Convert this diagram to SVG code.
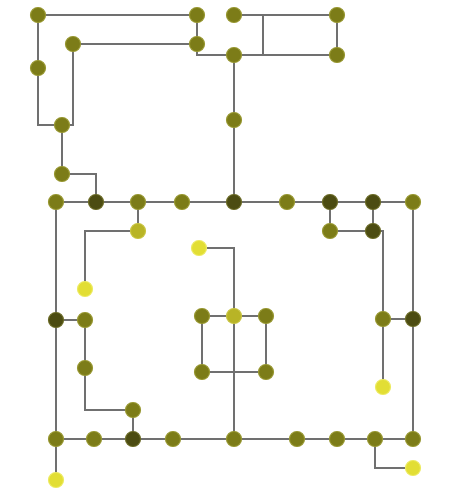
<svg xmlns="http://www.w3.org/2000/svg" width="451" height="493" viewBox="0 0 451 493">
<style>
.e{fill:none;stroke:#707070;stroke-width:2}
circle{r:7.5px;stroke-width:1.2}
.o{fill:#7c7c18;stroke:#979730}
.d{fill:#4c4c12;stroke:#6a6a25}
.l{fill:#b8b426;stroke:#c8c440}
.y{fill:#e2de34;stroke:#ecea60}
</style>
<rect width="451" height="493" fill="#fff"/>
<g id="edges" class="e">
<path d="M38,15H197V44H73V125H38V15"/>
<path d="M197,44V55H337V15H234"/>
<path d="M263,15V55"/>
<path d="M234,55V202"/>
<path d="M62,125V174H96V202"/>
<path d="M56,202H413V439H56V202"/>
<path d="M138,202V231H85V289"/>
<path d="M330,202V231H373V202"/>
<path d="M373,231H383V387"/>
<path d="M383,319H413"/>
<path d="M56,320H85V410H133V439"/>
<path d="M199,248H234V439"/>
<path d="M202,316H266V372H202Z"/>
<path d="M56,439V480"/>
<path d="M375,439V468H413"/>
</g>
<g id="n1"><circle class="o" cx="38" cy="15"/></g>
<g id="n2"><circle class="o" cx="197" cy="15"/></g>
<g id="n3"><circle class="o" cx="73" cy="44"/></g>
<g id="n4"><circle class="o" cx="197" cy="44"/></g>
<g id="n5"><circle class="o" cx="38" cy="68"/></g>
<g id="n6"><circle class="o" cx="62" cy="125"/></g>
<g id="n7"><circle class="o" cx="62" cy="174"/></g>
<g id="n8"><circle class="o" cx="234" cy="15"/></g>
<g id="n9"><circle class="o" cx="337" cy="15"/></g>
<g id="n10"><circle class="o" cx="234" cy="55"/></g>
<g id="n11"><circle class="o" cx="337" cy="55"/></g>
<g id="n12"><circle class="o" cx="234" cy="120"/></g>
<g id="n13"><circle class="o" cx="56" cy="202"/></g>
<g id="n14"><circle class="d" cx="96" cy="202"/></g>
<g id="n15"><circle class="o" cx="138" cy="202"/></g>
<g id="n16"><circle class="o" cx="182" cy="202"/></g>
<g id="n17"><circle class="d" cx="234" cy="202"/></g>
<g id="n18"><circle class="o" cx="287" cy="202"/></g>
<g id="n19"><circle class="d" cx="330" cy="202"/></g>
<g id="n20"><circle class="d" cx="373" cy="202"/></g>
<g id="n21"><circle class="o" cx="413" cy="202"/></g>
<g id="n22"><circle class="l" cx="138" cy="231"/></g>
<g id="n23"><circle class="o" cx="330" cy="231"/></g>
<g id="n24"><circle class="d" cx="373" cy="231"/></g>
<g id="n25"><circle class="y" cx="199" cy="248"/></g>
<g id="n26"><circle class="y" cx="85" cy="289"/></g>
<g id="n27"><circle class="d" cx="56" cy="320"/></g>
<g id="n28"><circle class="o" cx="85" cy="320"/></g>
<g id="n29"><circle class="o" cx="202" cy="316"/></g>
<g id="n30"><circle class="l" cx="234" cy="316"/></g>
<g id="n31"><circle class="o" cx="266" cy="316"/></g>
<g id="n32"><circle class="o" cx="383" cy="319"/></g>
<g id="n33"><circle class="d" cx="413" cy="319"/></g>
<g id="n34"><circle class="o" cx="85" cy="368"/></g>
<g id="n35"><circle class="o" cx="202" cy="372"/></g>
<g id="n36"><circle class="o" cx="266" cy="372"/></g>
<g id="n37"><circle class="y" cx="383" cy="387"/></g>
<g id="n38"><circle class="o" cx="133" cy="410"/></g>
<g id="n39"><circle class="o" cx="56" cy="439"/></g>
<g id="n40"><circle class="o" cx="94" cy="439"/></g>
<g id="n41"><circle class="d" cx="133" cy="439"/></g>
<g id="n42"><circle class="o" cx="173" cy="439"/></g>
<g id="n43"><circle class="o" cx="234" cy="439"/></g>
<g id="n44"><circle class="o" cx="297" cy="439"/></g>
<g id="n45"><circle class="o" cx="337" cy="439"/></g>
<g id="n46"><circle class="o" cx="375" cy="439"/></g>
<g id="n47"><circle class="o" cx="413" cy="439"/></g>
<g id="n48"><circle class="y" cx="56" cy="480"/></g>
<g id="n49"><circle class="y" cx="413" cy="468"/></g>
</svg>
